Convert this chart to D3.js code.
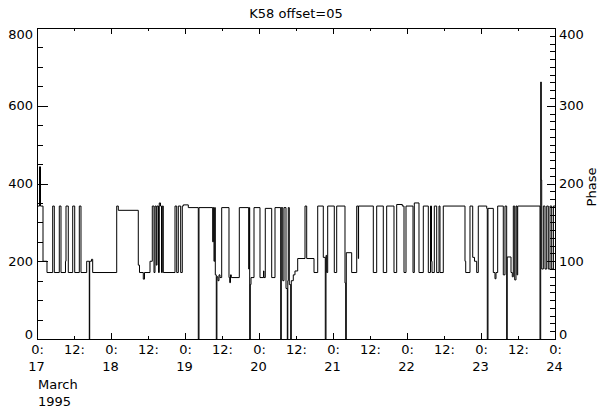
<!DOCTYPE html>
<html>
<head>
<meta charset="utf-8">
<script src="https://cdn.jsdelivr.net/npm/d3@7"></script>
<style>
  body { margin: 0; background: #fff; }
  svg { display: block; }
  text { font-family: "DejaVu Sans", sans-serif; font-size: 13px; fill: #000; }
</style>
</head>
<body>
<svg id="chart" width="598" height="408"></svg>
<script>
// hours since 1995-03-17 00:00 UT, and the value at each step
const hours = [
  0, 0.81, 1.14, 1.95, 3.24, 5.09, 5.61, 7.23, 7.78, 9.24, 9.41, 10.15, 11.58, 12.23,
  13.72, 14.27, 16.12, 16.96, 17.09, 17.68, 18.06, 25.85, 26.37, 32.85, 33.24, 34.47,
  34.86, 36.65, 37.39, 37.95, 38.27, 38.69, 38.92, 39.41, 39.66, 40.05, 40.38, 40.64,
  40.96, 44.76, 45.31, 45.83, 46.6, 47.12, 47.45, 49.07, 52.31, 52.54, 56.98, 57.18,
  57.4, 57.63, 57.83, 58.15, 58.35, 58.7, 59.03, 59.35, 59.9, 62.27, 62.5, 62.76,
  63.02, 65.61, 68.66, 68.85, 68.98, 69.18, 69.41, 70.38, 72.32, 73.46, 73.62, 74.04,
  76.12, 77.19, 79.04, 79.23, 79.69, 80.11, 80.76, 81.18, 81.34, 81.5, 81.83, 82.28,
  82.47, 83.12, 83.67, 84.55, 86.92, 87.47, 89.84, 91.04, 92.85, 93.5, 93.73, 93.96,
  94.28, 96.42, 97.2, 99.89, 100.12, 100.31, 102.06, 103.69, 104.21, 104.3, 109.07,
  110.17, 112.31, 113.41, 115.78, 116.66, 118.48, 119.03, 119.68, 121.95, 122.37,
  123.89, 125.29, 126.91, 127.62, 127.95, 128.11, 128.86, 129.63, 130.38, 130.7,
  131.77, 138.81, 139.04, 140.43, 141.31, 141.89, 142.6, 143.12, 145.85, 146.04,
  146.27, 147.99, 148.54, 148.86, 149.41, 151.23, 151.78, 152.33, 152.5, 153.73,
  154.15, 154.48, 154.93, 155.35, 155.68, 155.9, 163.14, 163.36, 163.56, 163.69,
  164.21, 164.76, 165.31, 165.83, 166.38, 166.93, 167.48, 168
];
const values = [
  342, 443, 342, 200, 171, 342, 171, 342, 171, 200, 342, 171, 342, 171,
  342, 171, 200, 0, 200, 205, 171, 342, 331, 190, 171, 154,
  171, 200, 342, 171, 342, 190, 342, 171, 350, 342, 171, 342,
  171, 342, 171, 342, 171, 342, 345, 338, 0, 338, 250, 338,
  200, 338, 165, 0, 160, 150, 165, 158, 338, 158, 145, 165,
  158, 338, 180, 338, 0, 140, 158, 338, 158, 175, 158, 336,
  158, 338, 0, 338, 150, 338, 130, 0, 150, 338, 140, 0,
  150, 165, 175, 207, 342, 207, 171, 342, 210, 0, 215, 171,
  342, 171, 342, 144, 0, 222, 171, 342, 207, 342, 171,
  342, 171, 342, 171, 346, 342, 171, 342, 171, 350,
  171, 342, 171, 342, 200, 171, 342, 171, 342, 171,
  342, 200, 171, 342, 210, 200, 171, 342, 336, 0,
  336, 171, 155, 171, 342, 165, 342, 0, 211, 171,
  160, 342, 152, 342, 165, 342, 0, 661, 409, 180,
  342, 180, 342, 180, 342, 180, 342, 342
];
const leftTicks = [0, 200, 400, 600, 800];
const rightTicks = [0, 100, 200, 300, 400];
const title = "K58  offset=05";

const width = 598, height = 408;
const margin = { top: 28, right: 43, bottom: 69, left: 37 };
const t0 = Date.UTC(1995, 2, 17);
const t1 = Date.UTC(1995, 2, 24);

const x = d3.scaleUtc().domain([t0, t1]).range([margin.left, width - margin.right]);
const y = d3.scaleLinear().domain([0, 800]).range([height - margin.bottom, margin.top]);
const yPhase = d3.scaleLinear().domain([0, 400]).range([height - margin.bottom, margin.top]);

const data = hours.map((h, i) => ({ t: new Date(t0 + h * 3600e3), v: values[i] }));
const svg = d3.select("#chart");
const plotTop = margin.top, plotBottom = height - margin.bottom;

function clampLabel(sel, scale) {
  sel.selectAll(".tick text")
    .attr("y", (d) => {
      const p = scale(d);
      if (p - plotTop < 6) return 6 - (p - plotTop);
      if (plotBottom - p < 5) return -(5 - (plotBottom - p));
      return 0;
    });
}

function plain(g) {
  g.attr("font-size", null).attr("font-family", null);
  g.select(".domain").remove();
}

// data
const line = d3.line()
  .x((d) => x(d.t))
  .y((d) => y(d.v))
  .curve(d3.curveStepAfter);

svg.append("path")
  .datum(data)
  .attr("fill", "none")
  .attr("stroke", "#000")
  .attr("stroke-width", 1)
  .attr("d", line);

// left axis
svg.append("g")
  .attr("transform", `translate(${margin.left},0)`)
  .call(d3.axisLeft(y).tickValues(d3.range(0, 801, 50)).tickSize(-6).tickFormat(""))
  .call(plain);
svg.append("g")
  .attr("transform", `translate(${margin.left},0)`)
  .call(d3.axisLeft(y).tickValues(leftTicks).tickSize(-11).tickPadding(4).tickFormat(d3.format("d")))
  .call(plain)
  .call((g) => clampLabel(g, y));

// right axis
svg.append("g")
  .attr("transform", `translate(${width - margin.right},0)`)
  .call(d3.axisRight(yPhase).tickValues(d3.range(0, 401, 10)).tickSize(-5).tickFormat(""))
  .call(plain);
svg.append("g")
  .attr("transform", `translate(${width - margin.right},0)`)
  .call(d3.axisRight(yPhase).tickValues(rightTicks).tickSize(-8.5).tickPadding(4).tickFormat(d3.format("d")))
  .call(plain)
  .call((g) => clampLabel(g, yPhase));

// x axes (bottom with labels, top ticks only)
const xTicks = d3.utcHour.every(12).range(t0, t1 + 1);
const isMidnight = (d) => d.getUTCHours() === 0;

const xb = svg.append("g")
  .attr("transform", `translate(0,${plotBottom})`)
  .call(d3.axisBottom(x).tickValues(xTicks).tickSize(-3).tickFormat(""))
  .call(plain);
xb.selectAll(".tick line").attr("y2", (d) => (isMidnight(d) ? -6 : -3));
xb.selectAll(".tick text").remove();
xb.selectAll(".tick").append("text")
  .attr("text-anchor", "middle")
  .attr("y", 15)
  .text((d) => `${d.getUTCHours()}:`);
xb.selectAll(".tick").filter(isMidnight).append("text")
  .attr("text-anchor", "middle")
  .attr("x", -1)
  .attr("y", 32)
  .text((d) => d.getUTCDate());

const xt = svg.append("g")
  .attr("transform", `translate(0,${plotTop})`)
  .call(d3.axisTop(x).tickValues(xTicks).tickSize(-3).tickFormat(""))
  .call(plain);
xt.selectAll(".tick line").attr("y2", (d) => (isMidnight(d) ? 6 : 3));
xt.selectAll(".tick text").remove();

svg.selectAll(".tick line").attr("stroke", "#000").attr("shape-rendering", "crispEdges");

// frame
svg.append("rect")
  .attr("x", margin.left + 0.5)
  .attr("y", plotTop + 0.5)
  .attr("width", width - margin.left - margin.right)
  .attr("height", plotBottom - plotTop)
  .attr("fill", "none")
  .attr("stroke", "#000")
  .attr("shape-rendering", "crispEdges");

// month / year under the first day
svg.append("text").attr("x", margin.left + 1).attr("y", 389).text("March");
svg.append("text").attr("x", margin.left + 1).attr("y", 406).text("1995");

// title
svg.append("text")
  .attr("x", (margin.left + width - margin.right) / 2)
  .attr("y", 18)
  .attr("text-anchor", "middle")
  .text(title);

// right axis label
svg.append("text")
  .attr("transform", `translate(596,187) rotate(-90)`)
  .attr("text-anchor", "middle")
  .text("Phase");
</script>
</body>
</html>
